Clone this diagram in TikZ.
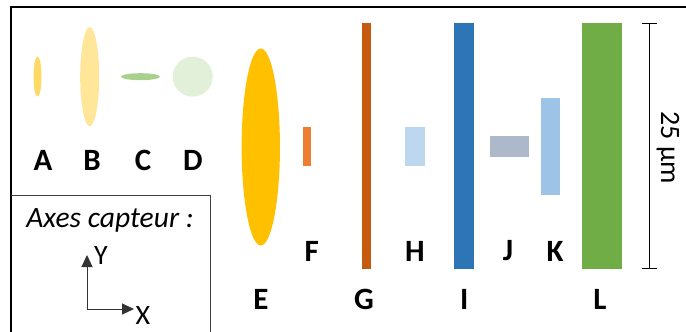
\documentclass[tikz,border=0pt]{standalone}
\usepackage{fontspec}
\setmainfont{Carlito}
\usetikzlibrary{shapes.geometric,arrows.meta}
\definecolor{cA}{HTML}{FFD966}
\definecolor{cB}{HTML}{FFE699}
\definecolor{cC}{HTML}{A9D18E}
\definecolor{cD}{HTML}{E2F0D9}
\definecolor{cE}{HTML}{FFC000}
\definecolor{cF}{HTML}{ED7D31}
\definecolor{cG}{HTML}{C55A11}
\definecolor{cH}{HTML}{BDD7EE}
\definecolor{cI}{HTML}{2E75B6}
\definecolor{cJ}{HTML}{ADB9CA}
\definecolor{cK}{HTML}{9DC3E6}
\definecolor{cL}{HTML}{70AD47}
\tikzset{
  ell/.style={ellipse, inner sep=0pt, outer sep=0pt, draw=none},
  bar/.style={rectangle, inner sep=0pt, outer sep=0pt, draw=none},
  lbl/.style={inner sep=0pt, font=\fontsize{31}{31}\selectfont\bfseries},
  axlbl/.style={inner sep=0pt, font=\fontsize{28}{28}\selectfont},
  axarrow/.style={line width=1pt, draw=black!80, -{Triangle[length=12pt,width=11pt]}},
  frameline/.style={line width=1.4pt, draw=black},
  boxline/.style={line width=1pt, draw=black!75}
}
\begin{document}
\begin{tikzpicture}[x=1pt,y=-1pt]
\useasboundingbox (0,0) rectangle (686,332);
% frame
\draw[frameline] (11,332) -- (11,7) -- (686,7);
\draw[boxline] (11,195) -- (210,195) -- (210,332);
% shapes
\node[ell, fill=cA, minimum width=8, minimum height=40] (A) at (37.5,76.7) {};
\node[ell, fill=cB, minimum width=19, minimum height=99] (B) at (89.7,76.7) {};
\node[ell, fill=cC, minimum width=39, minimum height=7] (C) at (140.5,76.7) {};
\node[ell, fill=cD, minimum width=40, minimum height=40] (D) at (192.7,76.7) {};
\node[ell, fill=cE, minimum width=38.3, minimum height=197] (E) at (260.8,147) {};
\node[bar, fill=cF, minimum width=7.4, minimum height=38.4] (F) at (307,146.5) {};
\node[bar, fill=cG, minimum width=8.7, minimum height=246] (G) at (366.7,146.3) {};
\node[bar, fill=cH, minimum width=19.7, minimum height=38.4] (H) at (415.2,146.5) {};
\node[bar, fill=cI, minimum width=19.4, minimum height=246] (I) at (464,146.3) {};
\node[bar, fill=cJ, minimum width=38.7, minimum height=20.4] (J) at (509.3,146.5) {};
\node[bar, fill=cK, minimum width=19.3, minimum height=97.6] (K) at (550.7,146.5) {};
\node[bar, fill=cL, minimum width=40, minimum height=246] (L) at (601.7,146.3) {};
% labels
\node[lbl] (lA) at (43,160) {A};
\node[lbl] (lB) at (92,160) {B};
\node[lbl] (lC) at (143,160) {C};
\node[lbl] (lD) at (193,160) {D};
\node[lbl] (lF) at (311.7,251) {F};
\node[lbl] (lH) at (415,251) {H};
\node[lbl] (lJ) at (508,251) {J};
\node[lbl] (lK) at (555,251) {K};
\node[lbl] (lE) at (261,299) {E};
\node[lbl] (lG) at (364,299) {G};
\node[lbl] (lI) at (464.3,299) {I};
\node[lbl] (lL) at (600,299) {L};
% scale bar
\coordinate (s1) at (649,23.3);
\coordinate (s2) at (649,269.3);
\draw[line width=1pt, {Bar[width=15pt]}-{Bar[width=15pt]}] (s1) -- (s2);
\node[axlbl, rotate=-90] (scale) at (668,148) {25 µm};
% axes
\node[axlbl, font=\fontsize{29.5}{29.5}\selectfont\itshape] (axt) at (110,220) {Axes capteur :};
\coordinate (o) at (87,309);
\coordinate (yt) at (87,255);
\coordinate (xt) at (134,309);
\draw[axarrow] (o) -- (yt);
\draw[axarrow] (o) -- (xt);
\node[axlbl] (Y) at (101,256) {Y};
\node[axlbl] (X) at (143,315.5) {X};
\end{tikzpicture}
\end{document}
